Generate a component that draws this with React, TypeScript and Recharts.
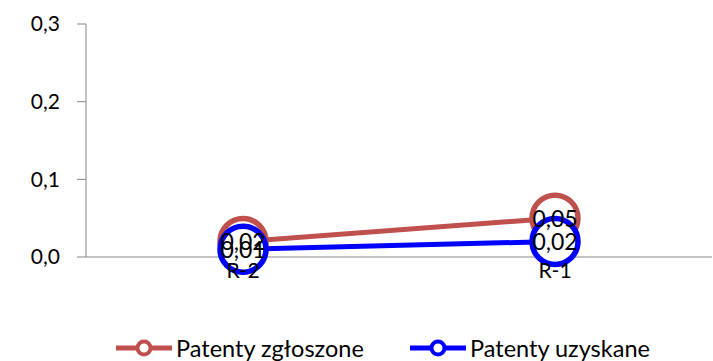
import { Legend, LabelList, Line, LineChart, XAxis, YAxis } from 'recharts';

const categories = ['R-2', 'R-1'];
const zgloszone = [0.02, 0.05];
const uzyskane = [0.01, 0.02];
const yTicks = [0, 0.1, 0.2, 0.3];

const RED = '#C0504D';
const BLUE = '#0000FF';
const AXIS = '#868686';
const FONT = 'Lato, "Open Sans", sans-serif';

const data = categories.map((name, i) => ({
  name,
  zgloszone: zgloszone[i],
  uzyskane: uzyskane[i],
}));

const fmt = (v: number) => v.toFixed(2).replace('.', ',');
const fmtTick = (v: number) => v.toFixed(1).replace('.', ',');

const series = [
  { key: 'zgloszone', label: 'Patenty zgłoszone', color: RED, left: 115 },
  { key: 'uzyskane', label: 'Patenty uzyskane', color: BLUE, left: 409 },
];

const renderLabel = (props: any) => {
  const { x, y, value } = props;
  return (
    <text
      x={x}
      y={y}
      textAnchor="middle"
      dominantBaseline="central"
      fontSize={23}
      fontFamily={FONT}
      fill="#000"
    >
      {fmt(Number(value))}
    </text>
  );
};

const makeDot = (color: string) => (props: any) => {
  const { cx, cy, index } = props;
  if (cx == null || cy == null) return <g key={index} />;
  return <circle key={index} cx={cx} cy={cy} r={23} fill="#fff" stroke={color} strokeWidth={5.5} />;
};

const CustomLegend = () => (
  <div style={{ position: 'relative', height: 30, fontFamily: FONT, fontSize: 23.5 }}>
    {series.map((s) => (
      <div
        key={s.key}
        style={{ position: 'absolute', left: s.left, top: 0, height: 30, display: 'flex', alignItems: 'center' }}
      >
        <svg width={58} height={20} style={{ marginRight: 3 }}>
          <line x1={1} y1={10} x2={57} y2={10} stroke={s.color} strokeWidth={5} />
          <circle cx={29} cy={10} r={6.5} fill="#fff" stroke={s.color} strokeWidth={4} />
        </svg>
        <span style={{ whiteSpace: 'nowrap' }}>{s.label}</span>
      </div>
    ))}
  </div>
);

export default function App() {
  return (
    <div style={{ position: 'absolute', left: 0, top: 0, background: '#fff' }}>
      <LineChart width={713} height={361} data={data} margin={{ top: 24, right: 1, bottom: 44, left: 0 }}>
        <YAxis
          domain={[0, 0.3]}
          ticks={yTicks}
          tickFormatter={fmtTick}
          width={86}
          tickSize={9}
          tickMargin={17}
          axisLine={{ stroke: AXIS }}
          tickLine={{ stroke: AXIS }}
          tick={{ fontSize: 21, fontFamily: FONT, fill: '#000' }}
        />
        <XAxis
          dataKey="name"
          height={30}
          padding={{ left: 157, right: 157 }}
          tickLine={false}
          axisLine={{ stroke: AXIS }}
          tick={{ fontSize: 21, fontFamily: FONT, fill: '#000' }}
          tickMargin={0}
        />
        <Legend
          content={<CustomLegend />}
          wrapperStyle={{ top: 333, bottom: 'auto', left: 0, width: 713, height: 30 }}
        />
        {series.map((s) => (
          <Line
            key={s.key}
            dataKey={s.key}
            name={s.label}
            stroke={s.color}
            strokeWidth={5}
            dot={makeDot(s.color)}
            activeDot={false}
            isAnimationActive={false}
          />
        ))}
        {series.map((s) => (
          <Line
            key={s.key + '-labels'}
            dataKey={s.key}
            stroke="none"
            dot={false}
            activeDot={false}
            legendType="none"
            isAnimationActive={false}
          >
            <LabelList dataKey={s.key} content={renderLabel} />
          </Line>
        ))}
      </LineChart>
    </div>
  );
}
